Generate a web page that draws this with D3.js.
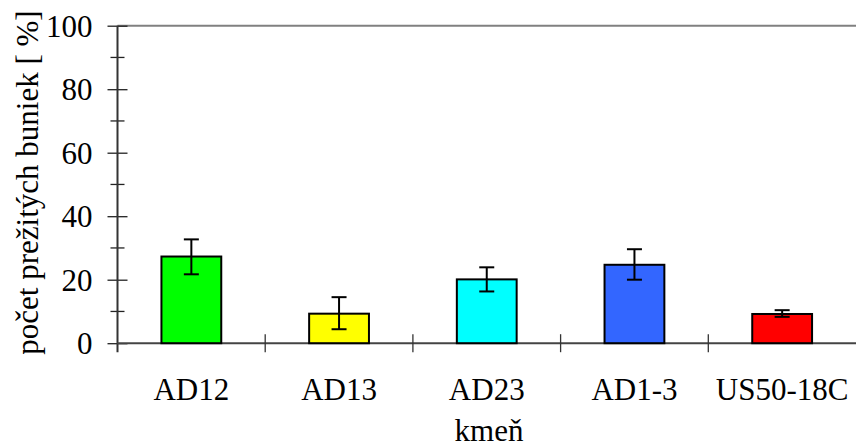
<!DOCTYPE html>
<html>
  <head>
    <meta charset="utf-8" />
    <script src="https://cdn.jsdelivr.net/npm/d3@7"></script>
    <style>
      body {
        margin: 0;
        background: #fff;
      }
    </style>
  </head>
  <body>
    <script>
      // strains and survival values
      var categories = ["AD12", "AD13", "AD23", "AD1-3", "US50-18C"];
      var values = [27.3, 9.3, 20.1, 24.7, 9.2];
      var errLow = [21.7, 4.4, 16.3, 20.0, 8.3];
      var errHigh = [32.7, 14.5, 23.9, 29.6, 10.4];
      var colors = ["#00ff00", "#ffff00", "#00ffff", "#3366ff", "#ff0000"];
      var majorTicks = [0, 20, 40, 60, 80, 100];
      var minorTicks = [10, 30, 50, 70, 90];

      var width = 856,
        height = 446;
      var plotLeft = 117.5,
        plotRight = 856,
        plotTop = 25.7,
        plotBottom = 343.2;
      var font = "'Liberation Serif'";

      var svg = d3
        .select("body")
        .append("svg")
        .attr("width", width)
        .attr("height", height);

      var y = d3.scaleLinear().domain([0, 100]).range([plotBottom, plotTop]);
      var x = d3.scaleBand().domain(categories).range([plotLeft, plotRight]);

      // top border line
      svg
        .append("line")
        .attr("x1", plotLeft)
        .attr("x2", plotRight)
        .attr("y1", y(100))
        .attr("y2", y(100))
        .attr("stroke", "#808080")
        .attr("stroke-width", 2);

      // y axis
      var yAxis = svg
        .append("g")
        .attr("transform", "translate(" + plotLeft + ",0)")
        .call(
          d3
            .axisLeft(y)
            .tickValues(majorTicks)
            .tickSize(10)
            .tickPadding(15)
        );
      yAxis.select(".domain").remove();
      yAxis
        .selectAll(".tick line")
        .attr("x1", 10)
        .attr("x2", -10)
        .attr("stroke", "#222")
        .attr("stroke-width", 1.3);
      yAxis
        .selectAll(".tick text")
        .style("font-family", font)
        .style("font-size", "31px")
        .attr("fill", "#000")
        .attr("dy", "0.34em");

      svg
        .selectAll(".minor")
        .data(minorTicks)
        .enter()
        .append("line")
        .attr("class", "minor")
        .attr("x1", plotLeft - 7)
        .attr("x2", plotLeft + 7)
        .attr("y1", function (d) {
          return y(d);
        })
        .attr("y2", function (d) {
          return y(d);
        })
        .attr("stroke", "#222")
        .attr("stroke-width", 1.3);

      svg
        .append("line")
        .attr("x1", plotLeft)
        .attr("x2", plotLeft)
        .attr("y1", y(100))
        .attr("y2", plotBottom + 9)
        .attr("stroke", "#333")
        .attr("stroke-width", 2);

      // x axis
      svg
        .append("line")
        .attr("x1", plotLeft)
        .attr("x2", plotRight)
        .attr("y1", plotBottom)
        .attr("y2", plotBottom)
        .attr("stroke", "#444")
        .attr("stroke-width", 2);

      svg
        .selectAll(".xtick")
        .data(categories.slice(1))
        .enter()
        .append("line")
        .attr("class", "xtick")
        .attr("x1", function (d) {
          return x(d);
        })
        .attr("x2", function (d) {
          return x(d);
        })
        .attr("y1", plotBottom - 9)
        .attr("y2", plotBottom + 9)
        .attr("stroke", "#333")
        .attr("stroke-width", 1.3);

      svg
        .selectAll(".xlabel")
        .data(categories)
        .enter()
        .append("text")
        .attr("class", "xlabel")
        .attr("x", function (d) {
          return x(d) + x.bandwidth() / 2;
        })
        .attr("y", 400)
        .attr("text-anchor", "middle")
        .style("font-family", font)
        .style("font-size", "31px")
        .text(function (d) {
          return d;
        });

      // bars
      var barW = x.bandwidth() * 0.405;
      svg
        .selectAll(".bar")
        .data(values)
        .enter()
        .append("rect")
        .attr("class", "bar")
        .attr("x", function (d, i) {
          return x(categories[i]) + (x.bandwidth() - barW) / 2;
        })
        .attr("y", function (d) {
          return y(d);
        })
        .attr("width", barW)
        .attr("height", function (d) {
          return plotBottom - y(d);
        })
        .attr("fill", function (d, i) {
          return colors[i];
        })
        .attr("stroke", "#000")
        .attr("stroke-width", 2);

      // error bars
      var cap = 7.5;
      var err = svg
        .selectAll(".err")
        .data(values)
        .enter()
        .append("g")
        .attr("class", "err")
        .attr("stroke", "#000")
        .attr("stroke-width", 2);
      err
        .append("line")
        .attr("x1", function (d, i) {
          return x(categories[i]) + x.bandwidth() / 2;
        })
        .attr("x2", function (d, i) {
          return x(categories[i]) + x.bandwidth() / 2;
        })
        .attr("y1", function (d, i) {
          return y(errLow[i]);
        })
        .attr("y2", function (d, i) {
          return y(errHigh[i]);
        });
      [errLow, errHigh].forEach(function (arr) {
        err
          .append("line")
          .attr("x1", function (d, i) {
            return x(categories[i]) + x.bandwidth() / 2 - cap;
          })
          .attr("x2", function (d, i) {
            return x(categories[i]) + x.bandwidth() / 2 + cap;
          })
          .attr("y1", function (d, i) {
            return y(arr[i]);
          })
          .attr("y2", function (d, i) {
            return y(arr[i]);
          });
      });

      // axis titles
      svg
        .append("text")
        .attr("x", 489)
        .attr("y", 441)
        .attr("text-anchor", "middle")
        .style("font-family", font)
        .style("font-size", "31px")
        .text("kmeň");

      svg
        .append("text")
        .attr("transform", "translate(38,182.5) rotate(-90)")
        .attr("text-anchor", "middle")
        .style("font-family", font)
        .style("font-size", "31px")
        .text("počet prežitých buniek [ %]");
    </script>
  </body>
</html>
